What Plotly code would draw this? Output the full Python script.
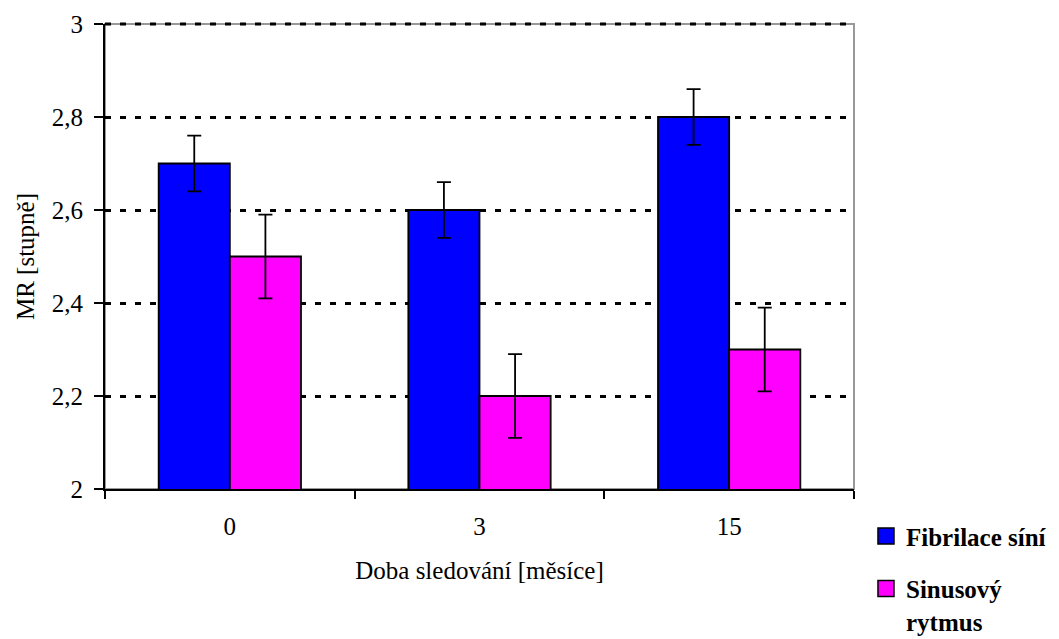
import plotly.graph_objects as go

categories = ["0", "3", "15"]
fibrilace = [2.7, 2.6, 2.8]
fibrilace_err = [0.06, 0.06, 0.06]
sinus = [2.5, 2.2, 2.3]
sinus_err = [0.09, 0.09, 0.09]
y_ticks = [2, 2.2, 2.4, 2.6, 2.8, 3]
series_names = ["Fibrilace síní", "Sinusový<br>rytmus"]
series_colors = ["#0000FF", "#FF00FF"]

FONT = "Liberation Serif"

fig = go.Figure()
for vals, errs, name, col in [(fibrilace, fibrilace_err, series_names[0], series_colors[0]),
                              (sinus, sinus_err, series_names[1], series_colors[1])]:
    fig.add_trace(go.Bar(
        x=categories, y=vals, name=name, showlegend=False,
        marker=dict(color=col, line=dict(color="black", width=1.8)),
        error_y=dict(type="data", array=errs, color="black", thickness=1.8, width=7),
    ))
# legend entries (square swatches as in the original)
for i, (name, col) in enumerate(zip(series_names, series_colors)):
    fig.add_trace(go.Scatter(
        x=[None], y=[None], mode="markers", name=name, legendgroup=f"g{i}",
        marker=dict(symbol="square", size=16, color=col, line=dict(color="black", width=1.5)),
    ))

fig.update_layout(
    template="none",
    width=1051, height=631,
    margin=dict(l=97, r=205, t=16, b=150, autoexpand=False),
    paper_bgcolor="white", plot_bgcolor="white",
    barmode="group", bargap=0.43, bargroupgap=0,
    separators=", ",
    font=dict(family=FONT, size=25, color="black"),
    showlegend=True,
    legend=dict(
        x=1.016, xanchor="left", y=-0.052, yanchor="top",
        font=dict(family=FONT, size=25, color="black", weight="bold"),
        tracegroupgap=17, valign="top", itemwidth=30,
        bgcolor="rgba(0,0,0,0)", borderwidth=0,
    ),
    shapes=[
        dict(type="rect", xref="paper", yref="paper", x0=0, x1=1, y0=0, y1=1,
             line=dict(color="#999999", width=2), layer="below"),
        # dotted gridline at the top of the value axis (y = 3), drawn unclipped
        dict(type="line", xref="paper", yref="paper", x0=0, x1=1, y0=1, y1=1,
             line=dict(color="black", width=3, dash="6px,9px"), layer="above"),
    ],
)
fig.update_xaxes(
    type="category", showline=True, linecolor="black", linewidth=2,
    ticks="outside", tickson="boundaries", ticklen=8, tickwidth=2, tickcolor="black",
    ticklabelstandoff=14,
    showgrid=False, zeroline=False, automargin=False,
    title=dict(text="Doba sledování [měsíce]", font=dict(size=25), standoff=22),
)
fig.update_yaxes(
    range=[2, 3], tickvals=y_ticks, showline=True, linecolor="black", linewidth=2,
    ticks="outside", ticklen=9, tickwidth=2, tickcolor="black",
    ticklabelstandoff=6,
    showgrid=True, gridcolor="black", gridwidth=3, griddash="6px,9px",
    zeroline=False, automargin=False,
    title=dict(text="MR [stupně]", font=dict(size=25), standoff=10),
)
fig.write_html("out.html")
